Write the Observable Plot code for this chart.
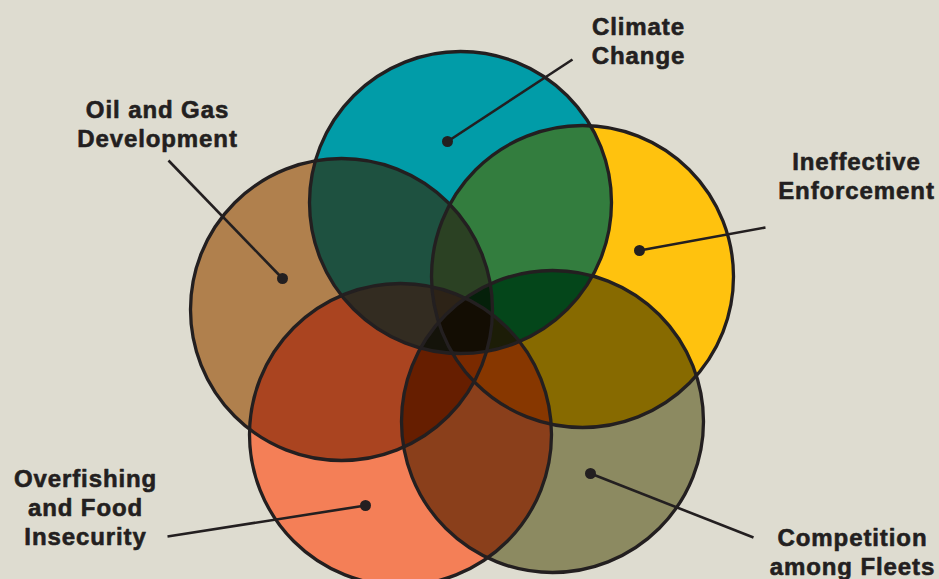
<!DOCTYPE html>
<html>
<head>
<meta charset="utf-8">
<script src="https://cdn.jsdelivr.net/npm/d3@7"></script>
<script src="https://cdn.jsdelivr.net/npm/@observablehq/plot@0.6"></script>
<style>
  html, body { margin: 0; padding: 0; background: #dedcd0; overflow: hidden; }
  #chart svg { display: block; background: #dedcd0; }
  .labels text { letter-spacing: 0.9px; }
</style>
</head>
<body>
<div id="chart"></div>
<script>
// Circles: key letter, name, centre and radius (chart units = pixels)
const keys = ["C", "E", "F", "O", "G"];
const drivers = ["Climate Change", "Ineffective Enforcement", "Competition among Fleets", "Overfishing and Food Insecurity", "Oil and Gas Development"];
const centerX = [460, 582, 552, 400, 341];
const centerY = [202, 276, 421, 434, 309];
const radius = [151, 151, 151, 151, 151];
const fills = ["#019ca8", "#ffc20e", "#8c8a61", "#f47f57", "#b0804d"];

// Overlap region colours (keyed by which circles cover the region)
const regionSets = ["CE", "EF", "FO", "GO", "CG", "CEG", "CEF", "EFO", "FGO", "CGO", "CEFGO", "EFGO", "CEGO", "CEFG", "CEFO", "CFGO"];
const regionColors = ["#337d3e", "#876a00", "#8a3f1b", "#aa4420", "#1e5140", "#2b4123", "#04461a", "#873700", "#661e00", "#332c21", "#130d03", "#7a2a00", "#2d2317", "#05200a", "#1c1d07", "#14130a"];

// Leader lines: dot position and label end
const dotX = [447, 639, 590, 365, 282];
const dotY = [141, 250, 473, 505, 278];
const endX = [572, 765, 753, 167, 168];
const endY = [59, 227, 537, 536, 160];

// Labels
const labelText = ["Climate\nChange", "Ineffective\nEnforcement", "Competition\namong Fleets", "Overfishing\nand Food\nInsecurity", "Oil and Gas\nDevelopment"];
const labelX = [638, 856, 852, 85, 157];
const labelY = [14.5, 149.5, 525.5, 466.5, 97.5];

const bg = "#dedcd0";
const ink = "#231f20";

const circles = drivers.map((d, i) => ({key: keys[i], name: d, cx: centerX[i], cy: centerY[i], r: radius[i], color: fills[i]}));
const leaders = drivers.map((d, i) => ({x1: dotX[i], y1: dotY[i], x2: endX[i], y2: endY[i]}));
const labels = drivers.map((d, i) => ({text: labelText[i], x: labelX[i], y: labelY[i]}));
const regionMap = new Map(regionSets.map((s, i) => [s, regionColors[i]]));
const singleMap = new Map(circles.map(c => [c.key, c.color]));

function multiply(cols) {
  let r = 1, g = 1, b = 1;
  for (const c of cols) { const k = d3.rgb(c); r *= k.r / 255; g *= k.g / 255; b *= k.b / 255; }
  return d3.rgb(r * 255, g * 255, b * 255).formatHex();
}
function regionFill(x, y) {
  const inside = circles.filter(c => (x - c.cx) ** 2 + (y - c.cy) ** 2 <= c.r ** 2);
  if (!inside.length) return bg;
  const key = inside.map(c => c.key).sort().join("");
  if (inside.length === 1) return singleMap.get(key);
  return regionMap.get(key) ?? multiply(inside.map(c => c.color));
}

const chart = Plot.plot({
  width: 939,
  height: 579,
  margin: 0,
  style: {background: bg, fontFamily: "'Liberation Sans', Arial, Helvetica, sans-serif"},
  x: {domain: [0, 939], range: [0, 939], axis: null},
  y: {domain: [0, 579], range: [0, 579], axis: null},
  r: {type: "identity"},
  color: {type: "identity"},
  marks: [
    Plot.raster({x1: 0, x2: 939, y1: 0, y2: 579, width: 939, height: 579, fill: regionFill}),
    Plot.dot(circles, {x: "cx", y: "cy", r: "r", fill: "none", stroke: ink, strokeWidth: 3.3}),
    Plot.link(leaders, {x1: "x1", y1: "y1", x2: "x2", y2: "y2", stroke: ink, strokeWidth: 2.6}),
    Plot.dot(leaders, {x: "x1", y: "y1", r: 5.5, fill: ink, stroke: null}),
    Plot.text(labels, {x: "x", y: "y", text: "text", fontSize: 24, fontWeight: "bold", fill: ink,
      stroke: ink, strokeWidth: 0.6, paintOrder: "stroke",
      lineAnchor: "top", lineHeight: 1.2, textAnchor: "middle", className: "labels"})
  ]
});
document.getElementById("chart").appendChild(chart);
</script>
</body>
</html>
